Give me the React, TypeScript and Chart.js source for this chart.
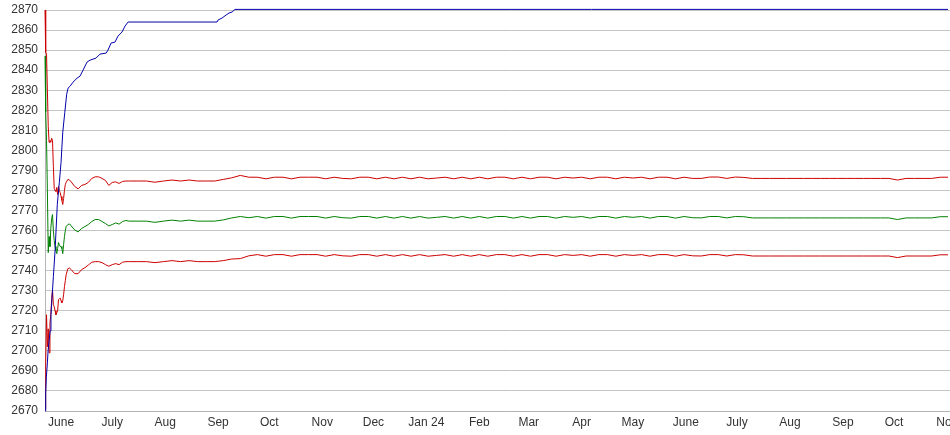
import { useEffect, useRef } from 'react';
import { Chart, registerables } from 'chart.js';

Chart.register(...registerables);

// x values are days counted from 1 June 2023
const monthDays = [0, 30, 61, 92, 122, 153, 183, 214, 245, 274, 305, 335, 366, 396, 427, 458, 488, 519];
const monthLabels = ['June', 'July', 'Aug', 'Sep', 'Oct', 'Nov', 'Dec', 'Jan 24', 'Feb', 'Mar', 'Apr', 'May', 'June', 'July', 'Aug', 'Sep', 'Oct', 'Nov'];

const yTicksMin = 2670;
const yTicksMax = 2870;
const yStep = 10;

const blueDays = [
  -9.4, -9.0, -8.6, -8.0, -7.6, -7.0, -6.4, -5.9, -5.3, -4.5,
  -3.5, -2.2, -1.0, 0, 1.0, 2.2, 3.3, 4.1, 5.3, 7.0,
  9.4, 11.1, 12.9, 15.2, 17.0, 20.5, 22.8, 26.4, 27.5, 29.3,
  31.6, 33.4, 35.7, 37.5, 39.3, 91.4, 92.0, 94.3, 96.7, 98.4,
  100.2, 101.9, 519.6,
];
const blueVals = [
  2670, 2679, 2687, 2694, 2700, 2705, 2710, 2718, 2726, 2737,
  2750, 2773, 2784, 2794, 2809, 2819, 2828, 2831, 2832, 2834,
  2836, 2837, 2840, 2844, 2845, 2846, 2848, 2848.5, 2850, 2853.5,
  2854, 2857, 2859, 2862, 2864, 2864, 2865, 2866, 2867.5, 2868.5,
  2869, 2870.3, 2870.3,
];

const bandDays = [
  -9.4, -9.0, -8.5, -8.0, -7.5, -7.0, -6.5, -6.0, -5.5, -5.0,
  -4.5, -4.0, -3.5, -3.0, -2.5, -2.0, -1.5, -1.0, -0.5, 0,
  0.5, 1.0, 1.5, 2.0, 2.5, 3.0, 4, 5, 6, 8,
  10, 12, 14, 16, 18, 20, 22, 24, 26, 28,
  30, 32, 34, 36, 38,
  40, 45, 50, 55, 60, 65, 70, 75, 80, 85,
  90, 95, 100, 105, 110, 115, 120, 125, 130, 135,
  140, 145, 150, 155, 160, 165, 170, 175, 180, 185,
  190, 195, 200, 205, 210, 215, 220, 225, 230, 235,
  240, 245, 250, 255, 260, 265, 270, 275, 280, 285,
  290, 295, 300, 305, 310, 315, 320, 325, 330, 335,
  340, 345, 350, 355, 360, 365, 370, 375, 380, 385,
  390, 395, 400, 405, 410, 415, 420, 425, 430, 435,
  440, 445, 450, 455, 460, 465, 470, 475, 480, 485,
  490, 495, 500, 505, 510, 515, 519.6,
];

const greenVals = [
  2847, 2819, 2805, 2780, 2749, 2757, 2752, 2761, 2766, 2768,
  2760, 2755, 2752, 2750, 2748.5, 2751, 2754, 2753, 2752, 2752,
  2751, 2748.5, 2753, 2757, 2760, 2762, 2763, 2763.3, 2762.3, 2760.3,
  2759.3, 2761, 2762, 2763, 2764.5, 2765.5, 2765.5, 2764.5, 2763.5, 2762.3,
  2763, 2763.8, 2763.2, 2764.5, 2765,
  2764.7, 2764.7, 2764.7, 2764.1, 2764.7, 2765.2, 2764.7, 2765.2, 2764.7, 2764.7,
  2764.7, 2765.3, 2766.3, 2767, 2766.4, 2767, 2766.2, 2767, 2767, 2766.2,
  2767, 2767, 2767, 2766.2, 2767, 2766.4, 2766.2, 2767, 2767, 2766.2,
  2767, 2766.2, 2767, 2766.2, 2767, 2766.2, 2766.6, 2767, 2766.2, 2767,
  2766.2, 2767, 2766.2, 2767, 2767, 2766.2, 2767, 2766.2, 2767, 2767,
  2766.2, 2767, 2766.6, 2767, 2766.2, 2767, 2767, 2766.2, 2767, 2766.6,
  2767, 2766.2, 2767, 2767, 2766.2, 2767, 2766.4, 2766.3, 2767, 2767,
  2766.3, 2767, 2766.9, 2766.3, 2766.3, 2766.3, 2766.3, 2766.3, 2766.3, 2766.3,
  2766.3, 2766.3, 2766.3, 2766.3, 2766.3, 2766.3, 2766.3, 2766.3, 2766.3, 2766.3,
  2765.5, 2766.3, 2766.3, 2766.3, 2766.3, 2766.9, 2766.9,
];

const upperVals = [
  2870, 2849, 2848, 2830, 2812, 2804, 2805, 2804, 2806, 2805,
  2792, 2781, 2780, 2779.5, 2781.5, 2778, 2782, 2780, 2779, 2777,
  2775, 2773, 2776, 2780, 2783, 2784, 2785.5, 2785.2, 2784.2, 2782,
  2780.8, 2782.5, 2783, 2784, 2786, 2786.8, 2786.8, 2786, 2785, 2782.5,
  2784, 2784.3, 2783.5, 2784.5, 2784.7,
  2784.7, 2784.7, 2784.7, 2784.1, 2784.7, 2785.2, 2784.7, 2785.2, 2784.7, 2784.7,
  2784.7, 2785.5, 2786.3, 2787.5, 2786.6, 2786.6, 2785.8, 2786.6, 2786.6, 2785.8,
  2786.6, 2786.6, 2786.6, 2785.8, 2786.6, 2786, 2785.8, 2786.6, 2786.6, 2785.8,
  2786.6, 2785.8, 2786.6, 2785.8, 2786.6, 2785.8, 2786.2, 2786.6, 2785.8, 2786.6,
  2785.8, 2786.6, 2785.8, 2786.6, 2786.6, 2785.8, 2786.6, 2785.8, 2786.6, 2786.6,
  2785.8, 2786.6, 2786.2, 2786.6, 2785.8, 2786.6, 2786.6, 2785.8, 2786.6, 2786.2,
  2786.6, 2785.8, 2786.6, 2786.6, 2785.8, 2786.6, 2786, 2786, 2786.7, 2786.7,
  2786, 2786.7, 2786.5, 2786, 2786, 2786, 2786, 2786, 2786, 2786,
  2786, 2786, 2786, 2786, 2786, 2786, 2786, 2786, 2786, 2786,
  2785.2, 2786, 2786, 2786, 2786, 2786.6, 2786.6,
];

const lowerVals = [
  2671, 2694, 2718, 2702, 2711, 2699, 2714, 2718, 2726, 2730.5,
  2723, 2722, 2720, 2718, 2719, 2720, 2725.5, 2726, 2726.3, 2725,
  2724, 2725, 2728, 2732, 2735, 2738, 2741, 2741.3, 2740.5, 2738.5,
  2738.5, 2740.5, 2741.5, 2742.8, 2744.2, 2744.5, 2744.5, 2744, 2743, 2742.2,
  2743, 2743.5, 2743, 2744.2, 2744.5,
  2744.5, 2744.5, 2744.5, 2744, 2744.5, 2745, 2744.5, 2745, 2744.5, 2744.5,
  2744.5, 2745, 2745.8, 2746, 2747.4, 2748, 2747.2, 2748, 2748, 2747.2,
  2748, 2748, 2748, 2747.2, 2748, 2747.4, 2747.2, 2748, 2748, 2747.2,
  2748, 2747.2, 2748, 2747.2, 2748, 2747.2, 2747.6, 2748, 2747.2, 2748,
  2747.2, 2748, 2747.2, 2748, 2748, 2747.2, 2748, 2747.2, 2748, 2748,
  2747.2, 2748, 2747.6, 2748, 2747.2, 2748, 2748, 2747.2, 2748, 2747.6,
  2748, 2747.2, 2748, 2748, 2747.2, 2748, 2747.4, 2747.3, 2748, 2748,
  2747.3, 2748, 2747.9, 2747.3, 2747.3, 2747.3, 2747.3, 2747.3, 2747.3, 2747.3,
  2747.3, 2747.3, 2747.3, 2747.3, 2747.3, 2747.3, 2747.3, 2747.3, 2747.3, 2747.3,
  2746.5, 2747.3, 2747.3, 2747.3, 2747.3, 2747.9, 2747.9,
];

const FONT = "'Liberation Sans', Arial, sans-serif";

function pts(xs: number[], ys: number[]) {
  return xs.map((x, i) => ({ x, y: ys[i] }));
}

export default function App() {
  const ref = useRef<HTMLCanvasElement>(null);

  useEffect(() => {
    if (!ref.current) return;
    const lineBase = {
      borderWidth: 1,
      pointRadius: 0,
      tension: 0,
      fill: false,
      clip: 4,
    };
    const chart = new Chart(ref.current, {
      type: 'line',
      data: {
        datasets: [
          { ...lineBase, label: 'blue', data: pts(blueDays, blueVals), borderColor: '#0000aa' },
          { ...lineBase, label: 'upper', data: pts(bandDays, upperVals), borderColor: '#cc0000' },
          { ...lineBase, label: 'mid', data: pts(bandDays, greenVals), borderColor: '#008000' },
          { ...lineBase, label: 'lower', data: pts(bandDays, lowerVals), borderColor: '#cc0000' },
        ],
      },
      options: {
        responsive: false,
        maintainAspectRatio: false,
        animation: false,
        devicePixelRatio: 1,
        layout: { padding: { top: 10, left: 0, right: 0, bottom: 0 } },
        plugins: { legend: { display: false }, tooltip: { enabled: false } },
        scales: {
          x: {
            type: 'linear',
            min: -9.4,
            max: 535.4,
            afterBuildTicks: (s: any) => {
              s.ticks = monthDays.map((v) => ({ value: v }));
            },
            afterFit: (s: any) => {
              s.height = 24;
              s.paddingLeft = 0;
              s.paddingRight = 0;
            },
            ticks: {
              autoSkip: false,
              maxRotation: 0,
              minRotation: 0,
              padding: 4,
              color: '#333',
              font: { family: FONT, size: 12 },
              callback: (_v: any, i: number) => monthLabels[i],
            },
            grid: { display: false, drawTicks: false },
            border: { display: true, color: '#b4b4b4' },
          },
          y: {
            min: yTicksMin,
            max: yTicksMax,
            afterFit: (s: any) => {
              s.width = 45;
              s.paddingTop = 0;
              s.paddingBottom = 0;
            },
            ticks: {
              stepSize: yStep,
              padding: 7,
              color: '#333',
              font: { family: FONT, size: 12 },
              callback: (v: any) => String(v),
            },
            grid: { color: '#c4c4c4', drawTicks: false },
            border: { display: true, color: '#b4b4b4' },
          },
        },
      } as any,
    });
    return () => chart.destroy();
  }, []);

  return (
    <div
      style={{
        position: 'absolute',
        left: 0,
        top: 0,
        width: 950,
        height: 435,
        overflow: 'hidden',
        background: '#fff',
      }}
    >
      <canvas ref={ref} width={975} height={435} style={{ display: 'block', width: 975, height: 435 }} />
    </div>
  );
}
